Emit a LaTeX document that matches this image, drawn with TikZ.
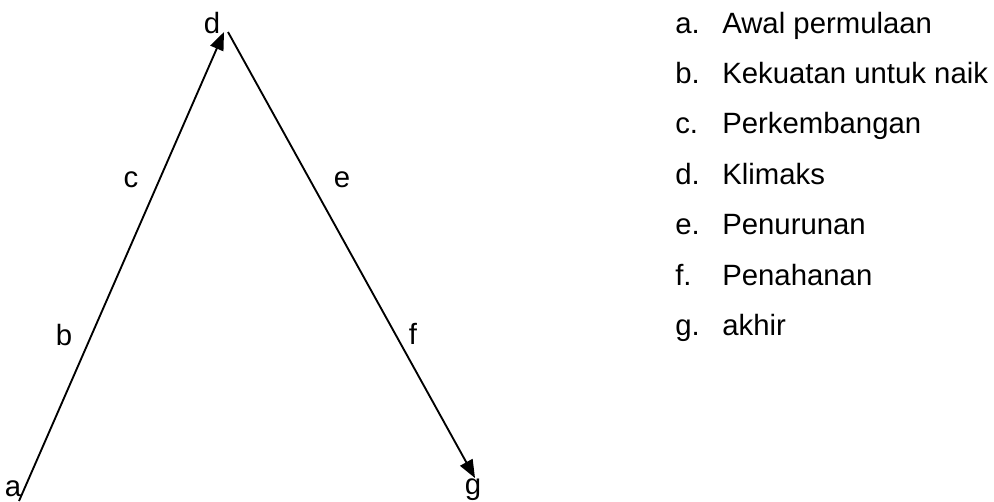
\documentclass[tikz,border=0pt]{standalone}
\usepackage{fontspec}
\setmainfont{Liberation Sans}
\usetikzlibrary{arrows.meta}
\begin{document}
\begin{tikzpicture}[x=0.75pt,y=-0.75pt,
  every node/.style={font=\fontsize{22}{26}\selectfont,inner sep=0pt},
  plot/.style={line width=1.4pt,-{Triangle[length=13.5pt,width=10.5pt]}},
  item/.style={anchor=base west}]
\useasboundingbox (0,0) rectangle (994,501);
\coordinate (start) at (19,501);
\coordinate (peakin) at (224,32);
\coordinate (peakout) at (228,32);
\coordinate (finish) at (475,478);
\draw[plot] (start)--(peakin);
\draw[plot] (peakout)--(finish);
\node (la) at (13,489) {a};
\node (lb) at (64,335) {b};
\node (lc) at (131,180) {c};
\node (ld) at (212,23) {d};
\node (le) at (342,180) {e};
\node (lf) at (413,334) {f};
\node (lg) at (473,490) {g};
\node[item] (ka) at (675,33) {a.};
\node[item] (ta) at (722,33) {Awal permulaan};
\node[item] (kb) at (675,83) {b.};
\node[item] (tb) at (722,83) {Kekuatan untuk naik};
\node[item] (kc) at (675,133) {c.};
\node[item] (tc) at (722,133) {Perkembangan};
\node[item] (kd) at (675,184) {d.};
\node[item] (td) at (722,184) {Klimaks};
\node[item] (ke) at (675,234) {e.};
\node[item] (te) at (722,234) {Penurunan};
\node[item] (kf) at (675,285) {f.};
\node[item] (tf) at (722,285) {Penahanan};
\node[item] (kg) at (675,335) {g.};
\node[item] (tg) at (722,335) {akhir};
\end{tikzpicture}
\end{document}
